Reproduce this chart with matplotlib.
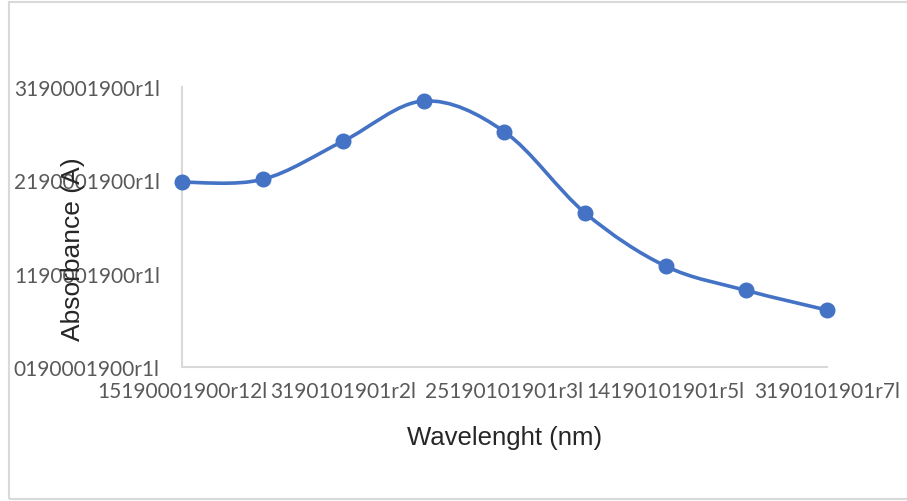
import matplotlib
matplotlib.use('Agg')
import matplotlib.pyplot as plt
from matplotlib.path import Path
from matplotlib.patches import PathPatch, Rectangle
import numpy as np

# data
absorbance = [1.98, 2.01, 2.42, 2.85, 2.52, 1.65, 1.08, 0.82, 0.61]
x_tick_labels = ['15190001900r12l', '3190101901r2l', '25190101901r3l',
                 '14190101901r5l', '3190101901r7l']
y_ticks = [0, 1, 2, 3]
y_tick_labels = ['0190001900r1l', '1190001900r1l', '2190001900r1l', '3190001900r1l']

LINE = '#4472C4'
TICK = '#595959'
AXIS = '#d9d9d9'


def smooth_path(xs, ys):
    # bezier through the points, like a smoothed Excel line
    pts = np.column_stack([xs, ys]).astype(float)
    ext = np.vstack([pts[0], pts, pts[-1]])
    verts = [pts[0]]
    codes = [Path.MOVETO]
    for i in range(len(pts) - 1):
        p0, p1, p2, p3 = ext[i], ext[i + 1], ext[i + 2], ext[i + 3]
        verts += [p1 + (p2 - p0) / 6, p2 - (p3 - p1) / 6, p2]
        codes += [Path.CURVE4] * 3
    return Path(verts, codes)


fig = plt.figure(figsize=(9.07, 5.02), dpi=100)
fig.patches.append(Rectangle((8.5 / 907, 2.5 / 502), 1.2, 1 - 5 / 502,
                             transform=fig.transFigure, fill=False,
                             edgecolor=AXIS, linewidth=1.5))

ax = fig.add_axes([182 / 907, 134 / 502, 645 / 907, 280 / 502])
x = np.arange(len(absorbance))

ax.add_patch(PathPatch(smooth_path(x, absorbance), facecolor='none',
                       edgecolor=LINE, linewidth=2.6, clip_on=False, zorder=3))
ax.plot(x, absorbance, linestyle='none', marker='o', markersize=10.5,
        color=LINE, clip_on=False, zorder=4)

ax.set_xlim(0, len(absorbance) - 1)
ax.set_ylim(0, 3)

ax.set_xticks(x[::2])
ax.set_xticklabels(x_tick_labels)
ax.set_yticks(y_ticks)
ax.set_yticklabels(y_tick_labels)
ax.tick_params(length=0, labelcolor=TICK, labelsize=15)
ax.tick_params(axis='x', pad=10)
ax.tick_params(axis='y', pad=16)
for lab in ax.get_xticklabels() + ax.get_yticklabels():
    lab.set_fontfamily('Lato')

for side in ['top', 'right']:
    ax.spines[side].set_visible(False)
for side in ['left', 'bottom']:
    ax.spines[side].set_color(AXIS)
    ax.spines[side].set_linewidth(1.5)

ax.set_xlabel('Wavelenght (nm)', fontsize=18.5, color='#262626',
              family='Liberation Sans', labelpad=17)
ax.set_ylabel('Absorbance (A)', fontsize=19, color='#262626',
              family='Liberation Sans')
ax.yaxis.set_label_coords(-0.15, 0.425)

fig.savefig('out.png', dpi=100)
